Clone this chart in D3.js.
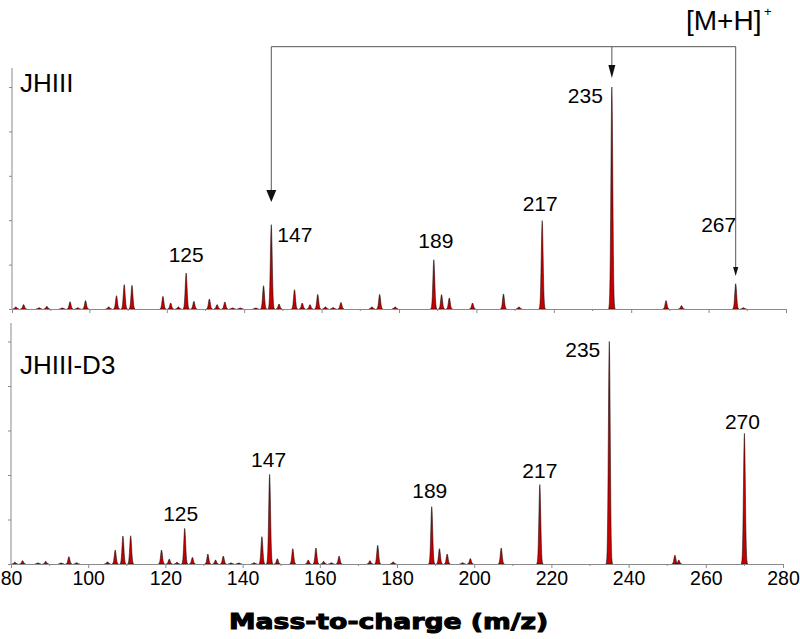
<!DOCTYPE html>
<html>
<head>
<meta charset="utf-8">
<script src="https://cdn.jsdelivr.net/npm/d3@7"></script>
<style>
  body { margin: 0; background: #fff; }
  svg { display: block; font-family: "Liberation Sans", Arial, sans-serif; }
</style>
</head>
<body>
<svg id="chart" width="800" height="639"></svg>
<script>
// JHIII spectrum (top panel), relative intensity %
var mzTop  = [81, 83, 87, 89, 93, 95, 97, 99, 105, 107, 109, 111, 119, 121, 123, 125, 127, 131, 133, 135, 137, 139, 143, 145, 147, 149, 153, 155, 157, 159, 161, 163, 165, 173, 175, 179, 189, 191, 193, 199, 207, 211, 217, 235, 249, 253, 267, 269];
var intTop = [1, 2, 0.6, 1.2, 0.5, 3.3, 0.6, 3.8, 1, 6, 11, 10.7, 5.7, 2.7, 1, 16.2, 3.5, 4.5, 2, 3.2, 0.5, 0.5, 0.5, 10.5, 38, 2.3, 8.7, 2.7, 2, 6.6, 1, 0.7, 3, 1, 6.6, 1, 22.2, 6.5, 5, 2.7, 6.8, 1, 39.8, 100, 3.8, 1.5, 11.4, 0.6];
// JHIII-D3 spectrum (bottom panel)
var mzBot  = [81, 83, 87, 89, 93, 95, 97, 105, 107, 109, 111, 119, 121, 123, 125, 127, 131, 133, 135, 137, 139, 143, 145, 147, 149, 153, 157, 159, 161, 163, 165, 173, 175, 179, 189, 191, 193, 197, 199, 207, 217, 235, 252, 253, 270];
var intBot = [0.8, 1.5, 0.5, 1.2, 0.5, 3.3, 0.6, 1, 6.3, 12.6, 12.7, 6.3, 2.2, 0.8, 16, 3, 4.5, 1.8, 3.6, 0.5, 0.5, 0.6, 12.3, 40.3, 2.4, 6.9, 1.8, 7.2, 1.2, 0.6, 3.6, 1.5, 8.4, 1, 25.8, 6.9, 4.5, 0.6, 2.5, 7.2, 35.7, 100, 4, 1.8, 58.7];

var labelsTop = [125, 147, 189, 217, 235, 267];
var labelsBot = [125, 147, 189, 217, 235, 270];
var arrowMz = [147, 235, 267];   // [M+H]+ fragment arrows
var yTickValues = [0, 20, 40, 60, 80, 100];
var xTickValues = [80, 100, 120, 140, 160, 180, 200, 220, 240, 260, 280];
var xMinorValues = [90, 110, 130, 150, 170, 190, 210, 230, 250, 270];

var svg = d3.select('#chart');
var axisColor = '#8a8a8a';

// label offsets (layout only)
var topLayout = {
  125: {dx: 0, dy: -11, anchor: 'middle'},
  147: {dx: 6, dy: 17, anchor: 'start'},
  189: {dx: 2, dy: -12, anchor: 'middle'},
  217: {dx: -2, dy: -10, anchor: 'middle'},
  235: {dx: -9, dy: 16, anchor: 'end'},
  267: {dx: -17, dy: -52, anchor: 'middle'}
};
var botLayout = {
  125: {dx: -4, dy: -7, anchor: 'middle'},
  147: {dx: -1, dy: -7, anchor: 'middle'},
  189: {dx: -2, dy: -9, anchor: 'middle'},
  217: {dx: 0, dy: -7, anchor: 'middle'},
  235: {dx: -9, dy: 15, anchor: 'end'},
  270: {dx: -2, dy: -4, anchor: 'middle'}
};

var panels = [
  {mz: mzTop, val: intTop, labels: labelsTop, layout: topLayout, name: 'JHIII',
   xr: [12, 786], yr: [309, 87], axisTop: 68, nameY: 92, showLabels: false},
  {mz: mzBot, val: intBot, labels: labelsBot, layout: botLayout, name: 'JHIII-D3',
   xr: [11, 783], yr: [564, 341.5], axisTop: 323, nameY: 374, showLabels: true}
];

// peak profile (gaussian shape, in m/z units)
var sigma = 0.24;
var offs = d3.range(-0.8, 0.8001, 0.08);

panels.forEach(function(p) {
  var x = d3.scaleLinear().domain([80, 280]).range(p.xr);
  var y = d3.scaleLinear().domain([0, 100]).range(p.yr);
  p.x = x; p.y = y;
  var g = svg.append('g');

  // peaks
  var area = d3.area()
    .x(function(d) { return x(d.m); })
    .y0(y(0))
    .y1(function(d) { return y(d.v); });
  var peaks = p.mz.map(function(m, i) {
    return offs.map(function(o) {
      return {m: m + o, v: p.val[i] * Math.exp(-o * o / (2 * sigma * sigma))};
    });
  });
  g.append('g').selectAll('path')
    .data(peaks)
    .enter()
    .append('path')
      .attr('d', area)
      .attr('fill', '#c40000')
      .attr('stroke', '#000')
      .attr('stroke-width', 0.5);

  // x axis
  var xAxis = d3.axisBottom(x).tickValues(xTickValues).tickSize(4).tickSizeOuter(0)
    .tickFormat(p.showLabels ? d3.format('d') : '');
  var ax = g.append('g').attr('transform', 'translate(0,' + y(0) + ')').call(xAxis);
  ax.selectAll('path, line').attr('stroke', axisColor);
  ax.selectAll('text')
    .attr('fill', '#000')
    .attr('dy', null)
    .attr('y', 21)
    .style('font-size', '19.5px')
    .style('font-family', '"Liberation Sans", Arial, sans-serif');
  g.append('g').selectAll('line')
    .data(xMinorValues)
    .enter()
    .append('line')
      .attr('x1', function(d) { return x(d); })
      .attr('x2', function(d) { return x(d); })
      .attr('y1', y(0))
      .attr('y2', y(0) + 2)
      .attr('stroke', axisColor);

  // y axis
  var yAxis = d3.axisLeft(y).tickValues(yTickValues).tickSize(3).tickSizeOuter(0).tickFormat('');
  var ay = g.append('g').attr('transform', 'translate(' + p.xr[0] + ',0)').call(yAxis);
  ay.selectAll('line').attr('stroke', axisColor);
  ay.select('.domain').remove();
  g.append('line')
    .attr('x1', p.xr[0]).attr('x2', p.xr[0])
    .attr('y1', p.axisTop).attr('y2', y(0))
    .attr('stroke', axisColor);

  // panel name
  g.append('text')
    .attr('x', 20)
    .attr('y', p.nameY)
    .style('font-size', '26px')
    .text(p.name);

  // peak labels
  g.append('g').selectAll('text')
    .data(p.labels)
    .enter()
    .append('text')
      .attr('x', function(m) { return x(m) + p.layout[m].dx; })
      .attr('y', function(m) { return y(p.val[p.mz.indexOf(m)]) + p.layout[m].dy; })
      .attr('text-anchor', function(m) { return p.layout[m].anchor; })
      .style('font-size', '21px')
      .text(function(m) { return m; });
});

// [M+H]+ annotation on the top panel
var xt = panels[0].x;
var bracketY = 46.7;
var tips = [202, 78, 276];
var heads = [{w: 5, h: 12}, {w: 3.5, h: 13}, {w: 2.6, h: 9}];
var ann = svg.append('g');
ann.append('line')
  .attr('x1', xt(arrowMz[0])).attr('x2', xt(arrowMz[2]))
  .attr('y1', bracketY).attr('y2', bracketY)
  .attr('stroke', '#555').attr('stroke-width', 1);
ann.selectAll('.stem')
  .data(arrowMz)
  .enter()
  .append('line')
    .attr('class', 'stem')
    .attr('x1', function(d) { return xt(d); })
    .attr('x2', function(d) { return xt(d); })
    .attr('y1', bracketY)
    .attr('y2', function(d, i) { return tips[i] - heads[i].h + 1; })
    .attr('stroke', '#555').attr('stroke-width', 1);
ann.selectAll('.head')
  .data(arrowMz)
  .enter()
  .append('path')
    .attr('class', 'head')
    .attr('d', function(d, i) {
      var cx = xt(d), t = tips[i], w = heads[i].w, h = heads[i].h;
      return 'M' + (cx - w) + ',' + (t - h) + 'L' + (cx + w) + ',' + (t - h) + 'L' + cx + ',' + t + 'Z';
    })
    .attr('fill', '#111');
ann.append('text')
  .attr('x', 686)
  .attr('y', 30)
  .style('font-size', '28px')
  .text('[M+H]');
ann.append('text')
  .attr('x', 764)
  .attr('y', 16)
  .style('font-size', '13px')
  .text('+');

// x axis title (heavy, wide face)
svg.append('text')
  .attr('transform', 'translate(229,629) scale(1.27,1)')
  .attr('stroke', '#000')
  .attr('stroke-width', 1)
  .style('font-family', '"DejaVu Sans", sans-serif')
  .style('font-weight', 'bold')
  .style('font-size', '21px')
  .text('Mass-to-charge (m/z)');
</script>
</body>
</html>
